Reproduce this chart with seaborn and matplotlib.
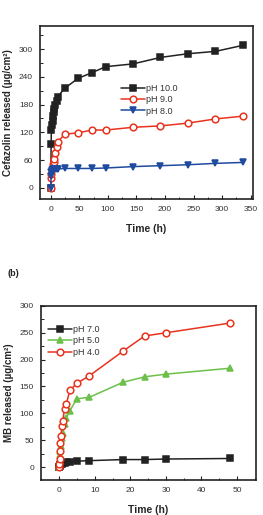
import numpy as np
import pandas as pd
import matplotlib
matplotlib.use("Agg")
import matplotlib.pyplot as plt
import seaborn as sns
from matplotlib.ticker import MultipleLocator

sns.set_style("ticks")
plt.rcParams['font.family'] = ['Liberation Sans', 'DejaVu Sans']

# ---- Panel (a): Cefazolin ----
t_a = [0, 0.5, 1, 2, 3, 4, 5, 6, 8, 10, 12, 24, 48, 72, 96, 144, 192, 240, 288, 336]
ph10 = [0, 95, 125, 135, 145, 155, 163, 170, 180, 188, 197, 215, 237, 249, 262, 268, 282, 290, 295, 308]
ph9 = [0, 22, 30, 40, 46, 52, 57, 63, 75, 88, 99, 116, 119, 125, 125, 131, 134, 140, 149, 155]
ph8 = [0, 25, 35, 38, 39, 40, 40, 41, 41, 41, 41, 42, 42, 42, 43, 46, 48, 50, 53, 55]
labels_a = ["pH 10.0", "pH 9.0", "pH 8.0"]

# ---- Panel (b): MB ----
t_b = [0, 0.08, 0.17, 0.25, 0.33, 0.5, 0.75, 1, 1.5, 2, 3, 5, 8.5, 18, 24, 30, 48]
ph7 = [0, 1, 2, 3, 4, 5, 6, 7, 8, 9, 10, 11, 12, 14, 14, 15, 16]
ph5 = [0, 4, 12, 22, 30, 40, 55, 64, 80, 91, 105, 127, 130, 158, 168, 173, 184]
ph4 = [0, 5, 15, 30, 44, 58, 77, 86, 108, 117, 143, 156, 170, 216, 244, 250, 268]
labels_b = ["pH 7.0", "pH 5.0", "pH 4.0"]

BLACK = "#222222"
RED = "#e8331f"
BLUE = "#1f4b9e"
GREEN = "#6cc04a"

fig = plt.figure(figsize=(2.63, 5.15), dpi=100)
ax1 = fig.add_axes([0.152, 0.6136, 0.810, 0.336])
ax2 = fig.add_axes([0.156, 0.068, 0.817, 0.338])

def draw(ax, x, y, label, color, marker, filled=True):
    kw = dict(markersize=4.8, markeredgewidth=1.1, linewidth=1.1)
    if filled:
        kw.update(markerfacecolor=color, markeredgecolor=color)
    else:
        kw.update(markerfacecolor="white", markeredgecolor=color)
    sns.lineplot(x=x, y=y, ax=ax, color=color, marker=marker, label=label,
                 sort=False, estimator=None, **kw)

draw(ax1, t_a, ph10, labels_a[0], BLACK, "s")
draw(ax1, t_a, ph9, labels_a[1], RED, "o", filled=False)
draw(ax1, t_a, ph8, labels_a[2], BLUE, "v")

draw(ax2, t_b, ph7, labels_b[0], BLACK, "s")
draw(ax2, t_b, ph5, labels_b[1], GREEN, "^")
draw(ax2, t_b, ph4, labels_b[2], RED, "o", filled=False)

ax1.set_xlim(-19, 354)
ax1.set_ylim(-24, 350)
ax1.xaxis.set_major_locator(MultipleLocator(50))
ax1.xaxis.set_minor_locator(MultipleLocator(25))
ax1.yaxis.set_major_locator(MultipleLocator(60))
ax1.yaxis.set_minor_locator(MultipleLocator(30))
ax1.set_yticks([0, 60, 120, 180, 240, 300])

ax2.set_xlim(-5.1, 55.3)
ax2.set_ylim(-24, 300)
ax2.xaxis.set_major_locator(MultipleLocator(10))
ax2.xaxis.set_minor_locator(MultipleLocator(5))
ax2.yaxis.set_major_locator(MultipleLocator(50))
ax2.yaxis.set_minor_locator(MultipleLocator(25))

for ax in (ax1, ax2):
    for s in ax.spines.values():
        s.set_visible(True)
        s.set_linewidth(1.2)
        s.set_color("#222222")
    ax.tick_params(which="both", direction="in", labelsize=6, colors="#222222",
                   labelcolor="#333333", top=False, right=False)
    ax.tick_params(which="major", length=3, width=0.8, pad=5)
    ax.tick_params(which="minor", length=1.8, width=0.7)
    ax.set_xlabel("Time (h)", fontsize=7.5, fontweight="bold", labelpad=8)

ax1.set_ylabel("Cefazolin released (µg/cm²)", fontsize=7, fontweight="bold", labelpad=4)
ax2.set_ylabel("MB released (µg/cm²)", fontsize=7, fontweight="bold", labelpad=4)

leg1 = ax1.legend(loc="upper left", bbox_to_anchor=(0.36, 0.69), frameon=False,
                  fontsize=6.5, handlelength=2.6, handletextpad=0.2, labelspacing=0.25,
                  borderpad=0)
leg2 = ax2.legend(loc="upper left", bbox_to_anchor=(0.012, 0.915), frameon=False,
                  fontsize=6.5, handlelength=2.6, handletextpad=0.2, labelspacing=0.25,
                  borderpad=0)
for leg in (leg1, leg2):
    for txt in leg.get_texts():
        txt.set_color("#333333")

fig.text(8 / 263, 1 - 274 / 515, "(b)", fontsize=6.5, fontweight="bold",
         va="center", ha="left", color="#222222")

fig.savefig("out.png", dpi=100)
